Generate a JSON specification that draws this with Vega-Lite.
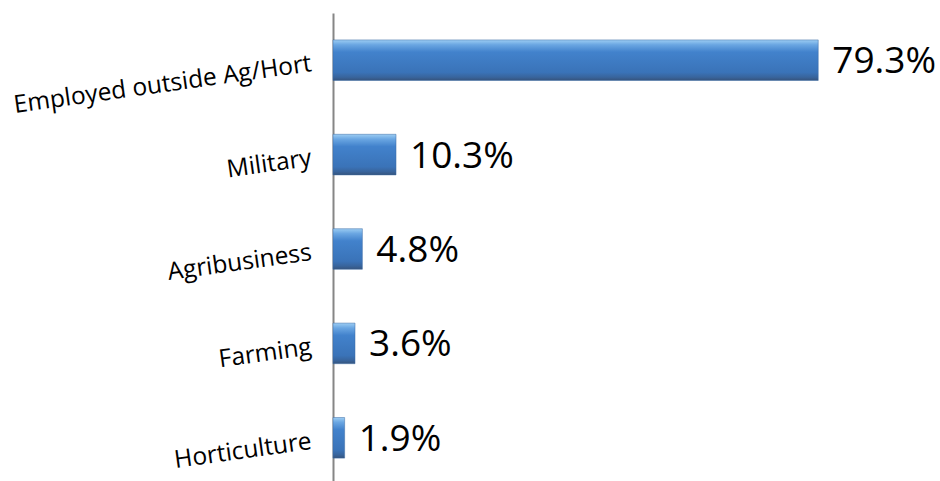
{
  "$schema": "https://vega.github.io/schema/vega-lite/v6.json",
  "autosize": "none",
  "width": 607,
  "height": 472,
  "padding": {"left": 333, "top": 13, "right": 0, "bottom": 0},
  "background": "white",
  "data": {
    "values": [
      {"category": "Employed outside Ag/Hort", "value": 79.3, "label": "79.3%"},
      {"category": "Military", "value": 10.3, "label": "10.3%"},
      {"category": "Agribusiness", "value": 4.8, "label": "4.8%"},
      {"category": "Farming", "value": 3.6, "label": "3.6%"},
      {"category": "Horticulture", "value": 1.9, "label": "1.9%"}
    ]
  },
  "encoding": {
    "y": {
      "field": "category",
      "type": "nominal",
      "sort": null,
      "scale": {"paddingInner": 0.57, "paddingOuter": 0.285},
      "axis": {
        "title": null,
        "ticks": false,
        "domainColor": "#868686",
        "domainWidth": 2,
        "labelFont": "Open Sans",
        "labelFontSize": 24.5,
        "labelColor": "#000000",
        "labelAngle": -8,
        "labelPadding": 22,
        "labelOffset": 4,
        "labelLimit": 400
      }
    },
    "x": {
      "field": "value",
      "type": "quantitative",
      "scale": {"domain": [0, 99.2], "nice": false},
      "axis": null
    }
  },
  "layer": [
    {
      "mark": {
        "type": "bar",
        "stroke": "#3a6aa5",
        "strokeWidth": 0.5,
        "color": {
          "gradient": "linear",
          "x1": 0, "y1": 0, "x2": 0, "y2": 1,
          "stops": [
            {"offset": 0, "color": "#9ccdf3"},
            {"offset": 0.12, "color": "#6aa6e2"},
            {"offset": 0.3, "color": "#4282cc"},
            {"offset": 0.8, "color": "#3a73b8"},
            {"offset": 0.92, "color": "#38649c"},
            {"offset": 1, "color": "#36547c"}
          ]
        }
      }
    },
    {
      "mark": {
        "type": "text",
        "align": "left",
        "baseline": "middle",
        "dx": 14,
        "dy": 2,
        "font": "Open Sans",
        "fontSize": 37,
        "color": "#000000"
      },
      "encoding": {"text": {"field": "label"}}
    }
  ],
  "config": {"view": {"stroke": null}}
}
